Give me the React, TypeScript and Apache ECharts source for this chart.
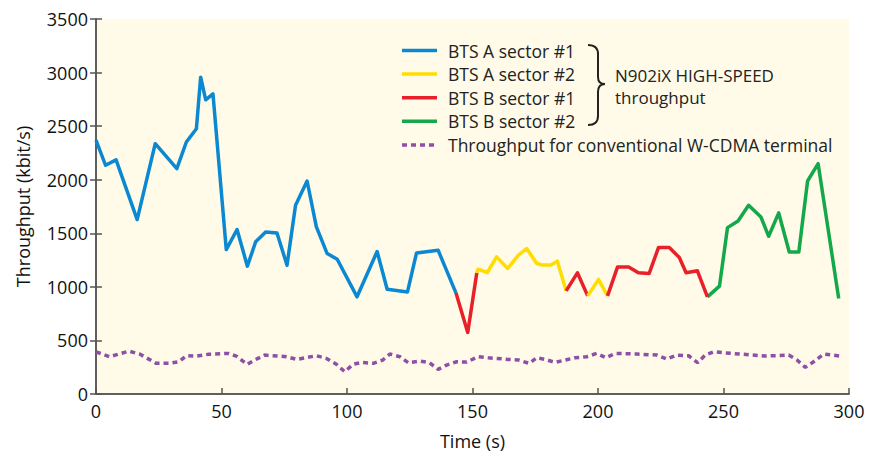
import React, { useEffect, useRef } from "react";
import * as echarts from "echarts";

const xTicks = [0, 50, 100, 150, 200, 250, 300];
const yTicks = [0, 500, 1000, 1500, 2000, 2500, 3000, 3500];

const btsA1: [number, number][] = [
  [0, 2370], [3.8, 2135], [8, 2185], [16.4, 1628], [23.6, 2336], [32.2, 2103],
  [36, 2352], [40, 2476], [41.7, 2957], [43.7, 2746], [46.6, 2802], [51.9, 1348],
  [56.2, 1535], [60.3, 1193], [63.6, 1420], [67.6, 1513], [72.1, 1503], [76.1, 1202],
  [79.5, 1761], [84.1, 1988], [87.8, 1559], [92.1, 1311], [96.1, 1258], [104, 907],
  [112, 1330], [116, 978], [124.1, 953], [127.7, 1317], [136.3, 1342], [143.4, 944],
];
const btsB1a: [number, number][] = [[143.4, 944], [148.1, 575], [151.7, 1130]];
const btsA2a: [number, number][] = [
  [151.7, 1130], [152.2, 1165], [155.9, 1134], [159.6, 1280], [164, 1171], [168.3, 1296],
  [171.6, 1358], [175.6, 1218], [177.6, 1205], [181.3, 1205], [183.8, 1240], [187.3, 963],
];
const btsB1b: [number, number][] = [[187.3, 963], [191.8, 1131], [195.9, 916]];
const btsA2b: [number, number][] = [[195.9, 916], [200.2, 1069], [203.8, 916]];
const btsB1c: [number, number][] = [
  [203.8, 916], [207.8, 1186], [212.2, 1186], [216.1, 1131], [220.4, 1125], [224.1, 1367],
  [228.4, 1367], [232.4, 1274], [235.1, 1131], [239.6, 1150], [243.6, 907],
];
const btsB2: [number, number][] = [
  [243.6, 907], [248.4, 1007], [251.6, 1553], [255.8, 1615], [260, 1761], [264.9, 1652],
  [268, 1472], [272, 1690], [276.2, 1326], [280, 1326], [283.5, 1988], [287.7, 2150],
  [295.9, 891],
];
const conventional: [number, number][] = [
  [0, 394], [5.4, 348], [13.1, 400], [17.4, 373], [24, 286], [29.3, 286], [33, 301],
  [36, 357], [40, 354], [44.6, 370], [52.6, 379], [55.9, 354], [60.2, 277], [63.2, 317],
  [67.2, 363], [75.9, 348], [79.9, 323], [87.8, 357], [91.8, 332], [95.8, 277], [99.1, 208],
  [102.4, 277], [105.8, 295], [110.4, 286], [114.2, 317], [117.1, 373], [121.1, 348],
  [124.4, 292], [129, 308], [132.8, 292], [136.3, 230], [139.7, 270], [143.7, 301],
  [147.7, 298], [152.3, 348], [156.3, 338], [164.3, 323], [168.3, 317], [172.6, 286],
  [175.6, 338], [178.9, 323], [182.9, 295], [190.9, 338], [195.5, 348], [199.5, 379],
  [203.2, 338], [206.8, 379], [215.5, 373], [223.5, 363], [227.4, 326], [231.4, 363],
  [236.1, 357], [239.7, 292], [242.7, 363], [246, 394], [250, 385], [258, 370], [266.7, 354],
  [276, 363], [279.3, 317], [282.6, 249], [285.9, 301], [289.9, 373], [296.6, 354],
];

const names = [
  "BTS A sector #1",
  "BTS A sector #2",
  "BTS B sector #1",
  "BTS B sector #2",
  "Throughput for conventional W-CDMA terminal",
];
const colors = ["#0a88d2", "#ffdd00", "#e8202a", "#13a84a", "#8e50a6"];
const braceLabel = ["N902iX HIGH-SPEED", "throughput"];

const FONT = "'Open Sans', 'Noto Sans', sans-serif";
const LEGEND_FS = 17.5;

echarts.graphic.registerShape(
  "brace",
  echarts.graphic.extendPath(
    "M0,0 C6,0 10,3 10,9 L10,32 C10,36 12,39 17,39 C12,39 10,42 10,47 L10,71 C10,77 6,80 0,80",
    {}
  )
);

export default function App() {
  const ref = useRef<HTMLDivElement>(null);
  useEffect(() => {
    if (!ref.current) return;
    document.body.style.margin = "0";
    const chart = echarts.init(ref.current, undefined, { renderer: "svg" });
    const lineSeries = (name: string, data: [number, number][], color: string, z = 3) => ({
      type: "line",
      name,
      data,
      symbol: "none",
      showSymbol: false,
      z,
      lineStyle: { color, width: 3.5, join: "round", cap: "butt" },
      itemStyle: { color },
    });
    const axisLine = { show: true, lineStyle: { color: "#555", width: 1.5 } };
    const tick = { show: true, inside: true, length: 6, lineStyle: { color: "#555", width: 1.5 } };

    const legendGraphics: any[] = [];
    names.forEach((n, i) => {
      const y = 50.5 + i * 23.6;
      legendGraphics.push({
        type: "line",
        z: 10,
        shape: { x1: 402, y1: y, x2: 437, y2: y },
        style: {
          stroke: colors[i],
          lineWidth: 3.5,
          lineDash: i === 4 ? [5, 4] : null,
          lineCap: "butt",
        },
      });
      legendGraphics.push({
        type: "text",
        x: 448,
        y: y,
        z: 10,
        style: {
          text: n,
          fontSize: LEGEND_FS,
          lineHeight: 19,
          fontFamily: FONT,
          fill: "#222",
          verticalAlign: "middle",
        },
      });
    });

    const braceTexts = braceLabel.map((t, i) => ({
      type: "text",
      x: 615,
      y: 75.5 + i * 22,
      z: 10,
      style: {
        text: t,
        fontSize: 17,
        lineHeight: 18,
        fontFamily: FONT,
        fill: "#222",
        verticalAlign: "middle",
      },
    }));

    chart.setOption({
      animation: false,
      backgroundColor: "#ffffff",
      grid: {
        left: 96,
        top: 19,
        right: 31,
        bottom: 63,
        show: true,
        backgroundColor: "#fffbe8",
        borderWidth: 0,
      },
      xAxis: [
        {
          type: "value",
          min: xTicks[0],
          max: xTicks[xTicks.length - 1],
          interval: 50,
          name: "Time (s)",
          nameLocation: "middle",
          nameGap: 38,
          nameTextStyle: { fontSize: 18, fontFamily: FONT, color: "#111" },
          axisLine,
          axisTick: tick,
          axisLabel: { fontSize: 18, fontFamily: FONT, color: "#111", margin: 8, formatter: (v: number) => String(v) },
          splitLine: { show: false },
        },
        {
          type: "value",
          position: "top",
          min: xTicks[0],
          max: xTicks[xTicks.length - 1],
          interval: 50,
          axisLine,
          axisTick: { show: false },
          axisLabel: { show: false },
          splitLine: { show: false },
        },
      ],
      yAxis: [
        {
          type: "value",
          min: yTicks[0],
          max: yTicks[yTicks.length - 1],
          interval: 500,
          name: "Throughput (kbit/s)",
          nameLocation: "middle",
          nameGap: 64,
          nameTextStyle: { fontSize: 18, fontFamily: FONT, color: "#111" },
          axisLine,
          axisTick: tick,
          axisLabel: { fontSize: 18, fontFamily: FONT, color: "#111", margin: 8, formatter: (v: number) => String(v) },
          splitLine: { show: false },
        },
        {
          type: "value",
          position: "right",
          min: yTicks[0],
          max: yTicks[yTicks.length - 1],
          interval: 500,
          axisLine,
          axisTick: tick,
          axisLabel: { show: false },
          splitLine: { show: false },
        },
      ],
      graphic: [
        ...legendGraphics,
        {
          type: "brace",
          x: 588,
          y: 45,
          z: 10,
          style: { stroke: "#222", lineWidth: 2, fill: "none" },
        },
        ...braceTexts,
      ],
      series: [
        lineSeries(names[0], btsA1, colors[0]),
        lineSeries(names[1], btsA2a, colors[1]),
        lineSeries(names[2], btsB1a, colors[2]),
        lineSeries(names[3], btsB2, colors[3]),
        {
          type: "line",
          name: names[4],
          data: conventional,
          symbol: "none",
          showSymbol: false,
          z: 2,
          lineStyle: { color: colors[4], width: 3.5, type: [5, 4], cap: "butt" },
          itemStyle: { color: colors[4] },
        },
        lineSeries(names[2], btsB1b, colors[2]),
        lineSeries(names[1], btsA2b, colors[1]),
        lineSeries(names[2], btsB1c, colors[2]),
      ],
    });
    return () => chart.dispose();
  }, []);
  return <div ref={ref} style={{ width: 880, height: 457 }} />;
}
